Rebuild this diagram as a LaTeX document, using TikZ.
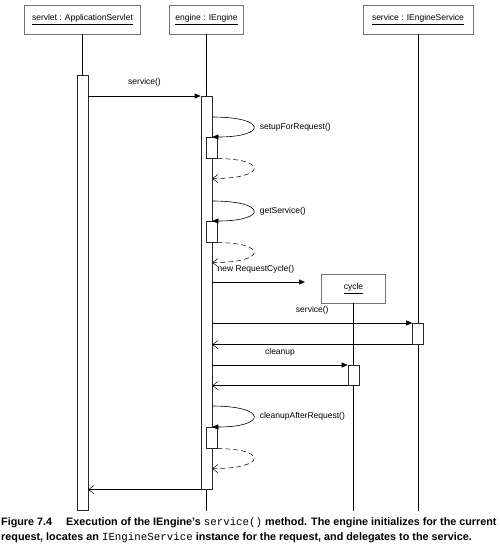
\documentclass[tikz,border=0pt]{standalone}
\usepackage{fontspec}
\setmainfont{Liberation Sans}
\setmonofont{Liberation Mono}
\usetikzlibrary{positioning, arrows.meta}

\begin{document}
\begin{tikzpicture}[x=1pt, y=-1pt, font=\fontsize{8.5}{10}\selectfont]
        \tikzstyle{obj} = [rectangle, draw=black!55, line width=0.7pt, fill=white, minimum height=29pt, inner sep=0pt]
        \tikzstyle{act} = [rectangle, draw=black!85, line width=0.6pt, fill=white, minimum width=11pt, inner sep=0pt, anchor=north]
        \tikzstyle{life} = [line width=0.6pt]
        \tikzstyle{lbl} = [inner sep=1pt]
        \tikzstyle{call} = [line width=0.6pt, -{Triangle[length=6pt, width=5pt]}]
        \tikzstyle{ret} = [line width=0.5pt, -{Straight Barb[length=5pt, width=8pt]}]
        \tikzstyle{selfret} = [ret, dash pattern=on 5pt off 3pt]
        \tikzstyle{capt} = [anchor=base west, inner sep=0pt, font=\bfseries\fontsize{10.8}{13}\selectfont]

        \useasboundingbox (0,0) rectangle (500,544);

        % objects and lifelines
        \node [obj, minimum width=116pt] (servlet) at (82.5,19.5) {\underline{servlet : ApplicationServlet}};
        \node [obj, minimum width=74pt] (engine) at (206.5,19.5) {\underline{engine : IEngine}};
        \node [obj, minimum width=110pt] (service) at (418,19.5) {\underline{service : IEngineService}};
        \node [obj, minimum width=64pt] (cycle) at (353.5,288.5) {\underline{cycle}};
        \coordinate (bottom) at (0,511);

        \draw [life] (servlet.south) -- (servlet.south |- bottom);
        \draw [life] (engine.south) -- (engine.south |- bottom);
        \draw [life] (service.south) -- (service.south |- bottom);
        \draw [life] (cycle.south) -- (cycle.south |- bottom);

        % activations
        \node [act, minimum height=435pt] (sact) at (82.5,75) {};
        \node [act, minimum height=393pt] (eact) at (206.5,96) {};
        \node [act, minimum height=21pt] (sb1) at (211.5,137) {};
        \node [act, minimum height=21pt] (sb2) at (211.5,221) {};
        \node [act, minimum height=21pt] (sb3) at (211.5,427) {};
        \node [act, minimum height=21pt] (svact) at (418,323) {};
        \node [act, minimum height=20pt] (cact) at (353.5,365) {};

        % messages
        \draw [call] (sact.east |- eact.north) -- (eact.north west) node [lbl, midway, above=8pt] {service()};

        \draw [call] ([yshift=20pt]sb1.north -| eact.east) .. controls +(55,0) and +(55,0) .. (sb1.north -| eact.east) node [lbl, pos=0.5, right=5pt] {setupForRequest()};
        \draw [selfret] (sb1.south east) .. controls +(50,0) and +(55,0) .. ([yshift=-20pt]sb1.south -| eact.east);

        \draw [call] ([yshift=20pt]sb2.north -| eact.east) .. controls +(55,0) and +(55,0) .. (sb2.north -| eact.east) node [lbl, pos=0.5, right=5pt] {getService()};
        \draw [selfret] (sb2.south east) .. controls +(50,0) and +(55,0) .. ([yshift=-20pt]sb2.south -| eact.east);

        \coordinate (newend) at (305,282);
        \draw [call] (eact.east |- newend) -- (newend) node [lbl, pos=0, anchor=south west, xshift=4pt, yshift=7pt] {new RequestCycle()};

        \draw [call] (eact.east |- svact.north) -- (svact.north west) node [lbl, midway, above=7pt] {service()};
        \draw [ret] (svact.south west) -- (eact.east |- svact.south);

        \draw [call] (eact.east |- cact.north) -- (cact.north west) node [lbl, midway, above=7pt] {cleanup};
        \draw [ret] (cact.south west) -- (eact.east |- cact.south);

        \draw [call] ([yshift=21pt]sb3.north -| eact.east) .. controls +(55,0) and +(55,0) .. (sb3.north -| eact.east) node [lbl, pos=0.5, right=5pt] {cleanupAfterRequest()};
        \draw [selfret] (sb3.south east) .. controls +(50,0) and +(55,0) .. ([yshift=-20pt]sb3.south -| eact.east);

        \draw [ret] (eact.south west) -- (sact.east |- eact.south);

        % caption
        \node [capt] (cap1) at (1,525) {Figure 7.4\hspace{14pt}Execution of the IEngine's \texttt{\mdseries service()} method. The engine initializes for the current};
        \node [capt] (cap2) at (1,540) {request, locates an \texttt{\mdseries IEngineService} instance for the request, and delegates to the service.};
\end{tikzpicture}
\end{document}
